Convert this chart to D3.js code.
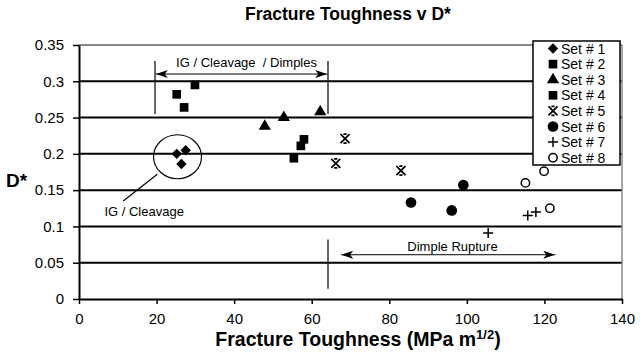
<!DOCTYPE html>
<html>
<head>
<meta charset="utf-8">
<script src="https://cdn.jsdelivr.net/npm/d3@7"></script>
<style>
  body { margin: 0; background: #fff; }
  text { font-family: "Liberation Sans", Arial, sans-serif; }
</style>
</head>
<body>
<div class="box"></div>
<script>
// DATA
const setNames = ['Set # 1', 'Set # 2', 'Set # 3', 'Set # 4', 'Set # 5', 'Set # 6', 'Set # 7', 'Set # 8'];
const set1 = [[25.2, 0.200], [27.5, 0.205], [26.4, 0.186]];
const set2 = [[25.2, 0.282], [27.1, 0.264], [29.9, 0.295]];
const set3 = [[47.9, 0.238], [52.8, 0.250], [62.2, 0.258]];
const set4 = [[55.4, 0.194], [57.2, 0.211], [58.0, 0.220]];
const set5 = [[68.6, 0.221], [66.2, 0.187], [83.0, 0.177]];
const set6 = [[99.1, 0.157], [85.6, 0.133], [96.1, 0.122]];
const set7 = [[105.5, 0.091], [115.7, 0.115], [117.8, 0.120]];
const set8 = [[115.1, 0.160], [119.9, 0.176], [121.4, 0.125]];
const xTicks = [0, 20, 40, 60, 80, 100, 120, 140];
const yTicks = [0, 0.05, 0.1, 0.15, 0.2, 0.25, 0.3, 0.35];

// SETUP
const dims = {width: 640, height: 355};
const svg = d3.select('.box')
              .append('svg')
              .attr('width', dims.width)
              .attr('height', dims.height);

const x = d3.scaleLinear().domain([0, 140]).range([79, 622]);
const y = d3.scaleLinear().domain([0, 0.35]).range([299, 45]);

// title
svg.append('text')
   .attr('x', 348).attr('y', 20)
   .attr('text-anchor', 'middle')
   .attr('font-weight', 'bold')
   .attr('font-size', 17.5)
   .text('Fracture Toughness v D*');

// gridlines (top one grey)
svg.append('g').selectAll('line')
   .data(yTicks.filter(d => d > 0))
   .enter().append('line')
   .attr('x1', x(0)).attr('x2', x(140))
   .attr('y1', d => y(d)).attr('y2', d => y(d))
   .attr('stroke', d => d === 0.35 ? '#888' : '#000')
   .attr('stroke-width', 2);

// right border
svg.append('line')
   .attr('x1', x(140)).attr('x2', x(140))
   .attr('y1', y(0.35)).attr('y2', y(0))
   .attr('stroke', '#888').attr('stroke-width', 1.5);

// axes
const xAxis = svg.append('g')
   .attr('transform', `translate(0, ${y(0)})`)
   .call(d3.axisBottom(x).tickValues(xTicks).tickSize(5).tickPadding(9).tickSizeOuter(0));
const yAxis = svg.append('g')
   .attr('transform', `translate(${x(0)}, 0)`)
   .call(d3.axisLeft(y).tickValues(yTicks).tickSize(6).tickPadding(9).tickSizeOuter(0)
           .tickFormat(d => d === 0 ? '0' : String(+d.toFixed(2))));
[xAxis, yAxis].forEach(a => {
  a.select('.domain').attr('stroke', '#000').attr('stroke-width', 2);
  a.selectAll('.tick line').attr('stroke', '#000').attr('stroke-width', 1.5);
  a.selectAll('text').attr('font-size', 15).attr('fill', '#000')
   .attr('font-family', '"Liberation Sans", Arial, sans-serif');
});

// axis titles
const xt = svg.append('text')
   .attr('x', 358).attr('y', 346)
   .attr('text-anchor', 'middle')
   .attr('font-weight', 'bold')
   .attr('font-size', 19.5)
   .text('Fracture Toughness (MPa m');
xt.append('tspan').attr('font-size', 13).attr('dy', -7).text('1/2');
xt.append('tspan').attr('dy', 7).text(')');

svg.append('text')
   .attr('x', 6).attr('y', 187)
   .attr('font-weight', 'bold')
   .attr('font-size', 19)
   .text('D*');

// markers
const sym = (type, size) => d3.symbol().type(type).size(size)();
const diamondPath = 'M0,-5.2L5.2,0L0,5.2L-5.2,0Z';
const starPath = 'M-4.5,-4.5L4.5,4.5M-4.5,4.5L4.5,-4.5M-1.6,-4.5L1.6,-4.5M-1.6,4.5L1.6,4.5';
const plusPath = 'M-5,0L5,0M0,-5L0,5';
const markers = [
  {d: diamondPath, fill: '#000', stroke: 'none'},
  {d: sym(d3.symbolSquare, 75), fill: '#000', stroke: 'none'},
  {d: sym(d3.symbolTriangle, 65), fill: '#000', stroke: 'none'},
  {d: sym(d3.symbolSquare, 75), fill: '#000', stroke: 'none'},
  {d: starPath, fill: 'none', stroke: '#000', sw: 1.8},
  {d: sym(d3.symbolCircle, 90), fill: '#000', stroke: 'none'},
  {d: plusPath, fill: 'none', stroke: '#000', sw: 1.5},
  {d: sym(d3.symbolCircle, 55), fill: '#fff', stroke: '#000', sw: 1.5}
];
const sets = [set1, set2, set3, set4, set5, set6, set7, set8];

// annotations
const ann = svg.append('g').attr('stroke', '#000').attr('fill', 'none');
const defs = svg.append('defs');
defs.append('marker').attr('id', 'arr')
    .attr('viewBox', '0 0 12 8').attr('refX', 12).attr('refY', 4)
    .attr('markerWidth', 12).attr('markerHeight', 8).attr('markerUnits', 'userSpaceOnUse')
    .attr('orient', 'auto-start-reverse')
    .append('path').attr('d', 'M0,0L12,4L0,8L3,4Z').attr('fill', '#000');

// IG / Cleavage / Dimples
ann.append('line').attr('x1', x(19.6)).attr('x2', x(19.6)).attr('y1', y(0.328)).attr('y2', y(0.255)).attr('stroke-width', 1.2);
ann.append('line').attr('x1', x(64.2)).attr('x2', x(64.2)).attr('y1', y(0.328)).attr('y2', y(0.255)).attr('stroke-width', 1.2);
ann.append('line').attr('x1', x(19.8)).attr('x2', x(64.0)).attr('y1', y(0.310)).attr('y2', y(0.310))
   .attr('stroke-width', 1).attr('marker-start', 'url(#arr)').attr('marker-end', 'url(#arr)');
svg.append('text').attr('x', x(43.2)).attr('y', y(0.319)).attr('text-anchor', 'middle')
   .attr('font-size', 13).attr('xml:space', 'preserve').text('IG / Cleavage  / Dimples');

// IG / Cleavage ellipse
ann.append('ellipse').attr('cx', x(25.4)).attr('cy', y(0.196)).attr('rx', 24).attr('ry', 22).attr('stroke-width', 1.2);
ann.append('line').attr('x1', x(20.2)).attr('x2', x(11.4)).attr('y1', y(0.172)).attr('y2', y(0.135)).attr('stroke-width', 1.2);
svg.append('text').attr('x', x(16.8)).attr('y', y(0.114)).attr('text-anchor', 'middle')
   .attr('font-size', 13).text('IG / Cleavage');

// Dimple Rupture
ann.append('line').attr('x1', x(64.2)).attr('x2', x(64.2)).attr('y1', y(0.082)).attr('y2', y(0.014)).attr('stroke-width', 1.2);
ann.append('line').attr('x1', x(67.6)).attr('x2', x(122.8)).attr('y1', y(0.061)).attr('y2', y(0.061))
   .attr('stroke-width', 1).attr('marker-start', 'url(#arr)').attr('marker-end', 'url(#arr)');
svg.append('text').attr('x', x(96.3)).attr('y', y(0.066)).attr('text-anchor', 'middle')
   .attr('font-size', 13).text('Dimple Rupture');

// points
sets.forEach((s, i) => {
  const m = markers[i];
  svg.append('g').selectAll('path')
     .data(s)
     .enter().append('path')
     .attr('transform', d => `translate(${x(d[0])}, ${y(d[1])})`)
     .attr('d', m.d)
     .attr('fill', m.fill)
     .attr('stroke', m.stroke)
     .attr('stroke-width', m.sw || 0);
});

// legend
const legend = svg.append('g').attr('transform', 'translate(533, 41)');
legend.append('rect').attr('width', 87).attr('height', 124)
      .attr('fill', '#fff').attr('stroke', '#000').attr('stroke-width', 1.5);
const rows = legend.selectAll('g.row')
      .data(setNames)
      .enter().append('g')
      .attr('transform', (d, i) => `translate(20, ${7.5 + i * 15.6})`);
rows.append('path')
    .attr('d', (d, i) => markers[i].d)
    .attr('fill', (d, i) => markers[i].fill)
    .attr('stroke', (d, i) => markers[i].stroke)
    .attr('stroke-width', (d, i) => markers[i].sw || 0);
rows.append('text')
    .attr('x', 8).attr('y', 5)
    .attr('font-size', 14)
    .text(d => d);
</script>
</body>
</html>
